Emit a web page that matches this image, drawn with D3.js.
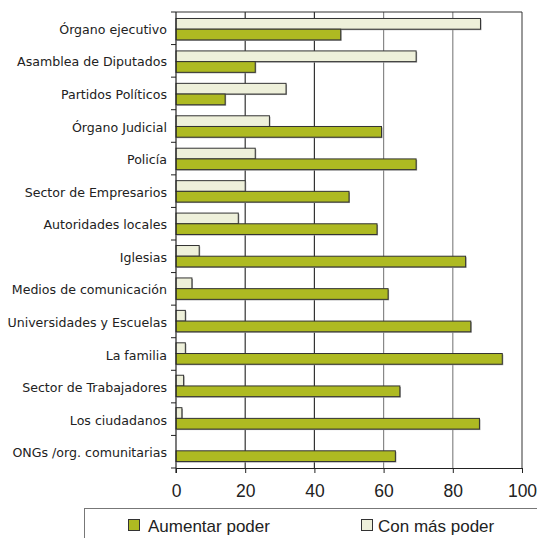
<!DOCTYPE html>
<html><head><meta charset="utf-8">
<script src="https://cdn.jsdelivr.net/npm/d3@7"></script>
<style>body{margin:0;background:#fff}svg{display:block}</style>
</head><body>
<svg id="c" width="537" height="538"></svg>
<script>
const categories = ["Órgano ejecutivo","Asamblea de Diputados","Partidos Políticos","Órgano Judicial","Policía","Sector de Empresarios","Autoridades locales","Iglesias","Medios de comunicación","Universidades y Escuelas","La familia","Sector de Trabajadores","Los ciudadanos","ONGs /org. comunitarias"];
const conMasPoder = [88.0,69.4,31.8,27.0,22.9,20.0,18.0,6.7,4.6,2.7,2.7,2.2,1.7,0];
const aumentarPoder = [47.6,22.9,14.2,59.4,69.4,50.0,58.1,83.7,61.3,85.2,94.3,64.7,87.7,63.4];
const seriesNames = ["Con más poder","Aumentar poder"];
const xTicks = [0,20,40,60,80,100];

const svg = d3.select("#c");
const L=176, R=522, T=12, B=468;
const x = d3.scaleLinear().domain([0,100]).range([L,R]);
const y = d3.scaleBand().domain(categories).range([T,B]).paddingInner(0.34).paddingOuter(0.2);
const ys = d3.scaleBand().domain(seriesNames).range([0,y.bandwidth()]);
const colors = {"Con más poder":"#eef0da","Aumentar poder":"#aeba22"};
const step = (B-T)/categories.length;

// gridlines
const g = svg.append("g");
xTicks.forEach(t=>{
  if(t===0) return;
  g.append("line").attr("x1",x(t)).attr("x2",x(t)).attr("y1",T).attr("y2",B)
   .attr("stroke", t<=40 ? "#333" : (t===100?"#555":"#888")).attr("stroke-width",1.2);
});
g.append("line").attr("x1",L).attr("x2",R).attr("y1",T).attr("y2",T).attr("stroke","#333").attr("stroke-width",1.2);

// bars
const data = [];
categories.forEach((c,i)=>{
  data.push({c, s:"Con más poder", v:conMasPoder[i]});
  data.push({c, s:"Aumentar poder", v:aumentarPoder[i]});
});
const bars = svg.append("g");
data.filter(d=>d.v>0).forEach(d=>{
  const yy = y(d.c)+ys(d.s);
  bars.append("rect").attr("x",x(0)+1).attr("y",yy+1).attr("width",x(d.v)-x(0)).attr("height",ys.bandwidth())
    .attr("fill","#999");
  bars.append("rect").attr("x",x(0)).attr("y",yy).attr("width",x(d.v)-x(0)).attr("height",ys.bandwidth())
    .attr("fill",colors[d.s]).attr("stroke","#333").attr("stroke-width",1);
});

// left axis
const la = svg.append("g");
la.append("line").attr("x1",L).attr("x2",L).attr("y1",T).attr("y2",B+5).attr("stroke","#222").attr("stroke-width",1.2);
d3.range(categories.length+1).forEach(i=>{
  const yy = T + i*step;
  la.append("line").attr("x1",L-5).attr("x2",L).attr("y1",yy).attr("y2",yy).attr("stroke","#222");
});
la.selectAll("text").data(categories).join("text")
  .attr("x",167).attr("y",(d,i)=>T+(i+0.5)*step+2).attr("text-anchor","end")
  .attr("dominant-baseline","middle").attr("font-family","DejaVu Sans").attr("font-size",12.6).attr("fill","#222")
  .text(d=>d);

// bottom axis
const ba = svg.append("g").attr("transform",`translate(0,${B})`);
ba.call(d3.axisBottom(x).tickValues(xTicks).tickSize(5).tickPadding(12).tickSizeOuter(0));
ba.select(".domain").attr("stroke","#222").attr("stroke-width",1.2);
ba.selectAll(".tick line").attr("stroke","#222");
ba.selectAll("text").attr("font-family","Liberation Sans, Arial").attr("font-size",17.5).attr("fill","#222");

// legend
const lg = svg.append("g");
lg.append("rect").attr("x",84.5).attr("y",508.5).attr("width",500).attr("height",60).attr("fill","none").attr("stroke","#777");
const leg = [{s:"Aumentar poder",sx:128,tx:148},{s:"Con más poder",sx:361,tx:378}];
leg.forEach(l=>{
  lg.append("rect").attr("x",l.sx+0.5).attr("y",519.5).attr("width",11).attr("height",11).attr("fill",colors[l.s]).attr("stroke","#333");
  lg.append("text").attr("x",l.tx).attr("y",532).attr("font-family","Liberation Sans, Arial").attr("font-size",17).attr("fill","#222").text(l.s);
});
</script>
</body></html>
